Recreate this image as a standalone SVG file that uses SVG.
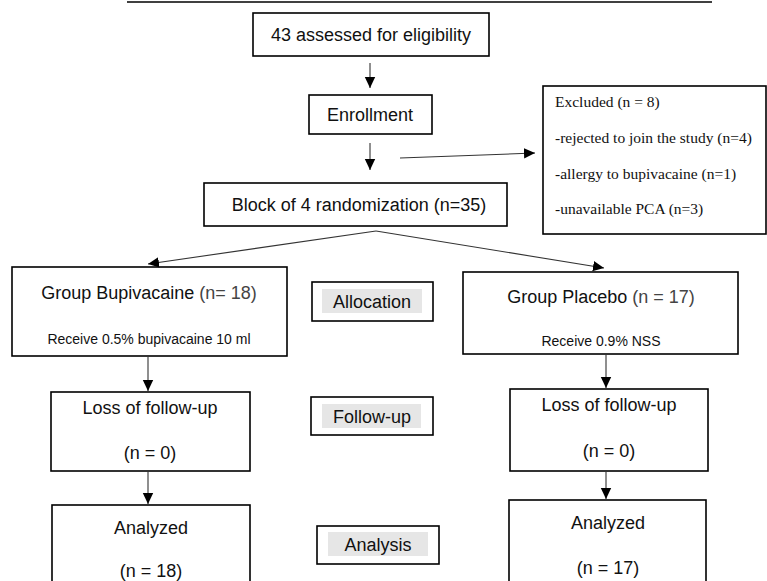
<svg xmlns="http://www.w3.org/2000/svg" width="767" height="581" viewBox="0 0 767 581">
<style>
.box{fill:#fff;stroke:#000;stroke-width:1.6}
.t{font-family:"Liberation Sans",Arial,sans-serif;fill:#111;text-anchor:middle;font-size:18px}
.r{font-size:14px}
.s{font-family:"Liberation Serif","Times New Roman",serif;fill:#111;font-size:15.5px}
.lbl{fill:#e6e6e6}
.c line{stroke:#333;stroke-width:1.1;fill:none}
</style>
<defs>
<marker id="ah" markerUnits="userSpaceOnUse" markerWidth="12" markerHeight="12" viewBox="0 0 12 12" refX="11" refY="6" orient="auto">
<path d="M0,0.8 L11,6 L0,11.2 Z" fill="#000"/>
</marker>
</defs>
<rect width="767" height="581" fill="#fff"/>
<line x1="127" y1="2" x2="712" y2="2" stroke="#000" stroke-width="1.5"/>

<g id="assessed"><rect class="box" x="253" y="13" width="236" height="43"/><text class="t" x="371" y="41">43 assessed for eligibility</text></g>
<g id="enrollment"><rect class="box" x="309" y="95" width="123" height="39"/><text class="t" x="370" y="121">Enrollment</text></g>
<g id="excluded"><rect class="box" x="543" y="86" width="223" height="148"/>
<text class="s" x="555" y="107">Excluded (n = 8)</text>
<text class="s" x="555" y="143">-rejected to join the study (n=4)</text>
<text class="s" x="555" y="179">-allergy to bupivacaine (n=1)</text>
<text class="s" x="555" y="214">-unavailable PCA (n=3)</text></g>
<g id="randomization"><rect class="box" x="204" y="183" width="303" height="43"/><text class="t" x="359" y="211">Block of 4 randomization (n=35)</text></g>

<g id="bupivacaine"><rect class="box" x="12" y="267" width="275" height="89"/>
<text class="t" x="149" y="299">Group Bupivacaine <tspan fill="#444">(n= 18)</tspan></text>
<text class="t r" x="149" y="344">Receive 0.5% bupivacaine 10 ml</text></g>
<g id="allocation"><rect class="box" x="312" y="282" width="121" height="39"/><rect class="lbl" x="322" y="289" width="100" height="24"/><text class="t" x="372" y="308">Allocation</text></g>
<g id="placebo"><rect class="box" x="463" y="272" width="275" height="82"/>
<text class="t" x="601" y="303">Group Placebo <tspan fill="#444">(n = 17)</tspan></text>
<text class="t r" x="601" y="346">Receive 0.9% NSS</text></g>

<g id="loss-left"><rect class="box" x="51" y="392" width="199" height="79"/>
<text class="t" x="150" y="414">Loss of follow-up</text>
<text class="t" x="150" y="459">(n = 0)</text></g>
<g id="followup"><rect class="box" x="311" y="397" width="122" height="38"/><rect class="lbl" x="322" y="404" width="99" height="24"/><text class="t" x="372" y="423">Follow-up</text></g>
<g id="loss-right"><rect class="box" x="510" y="389" width="198" height="82"/>
<text class="t" x="609" y="411">Loss of follow-up</text>
<text class="t" x="609" y="457">(n = 0)</text></g>

<g id="analyzed-left"><rect class="box" x="52" y="505" width="198" height="80"/>
<text class="t" x="151" y="534">Analyzed</text>
<text class="t" x="151" y="577">(n = 18)</text></g>
<g id="analysis"><rect class="box" x="317" y="526" width="122" height="38"/><rect class="lbl" x="328" y="532" width="100" height="24"/><text class="t" x="378" y="551">Analysis</text></g>
<g id="analyzed-right"><rect class="box" x="509" y="500" width="197" height="85"/>
<text class="t" x="608" y="529">Analyzed</text>
<text class="t" x="608" y="574">(n = 17)</text></g>

<g class="c" id="connectors">
<line x1="370" y1="63" x2="370" y2="88" marker-end="url(#ah)"/>
<line x1="370" y1="143" x2="370" y2="170" marker-end="url(#ah)"/>
<line x1="400" y1="158" x2="535" y2="153" marker-end="url(#ah)"/>
<line x1="376" y1="231" x2="148" y2="264" marker-end="url(#ah)"/>
<line x1="376" y1="231" x2="604" y2="268" marker-end="url(#ah)"/>
<line x1="148" y1="356" x2="148" y2="391" marker-end="url(#ah)"/>
<line x1="606" y1="354" x2="606" y2="388" marker-end="url(#ah)"/>
<line x1="148" y1="471" x2="148" y2="504" marker-end="url(#ah)"/>
<line x1="606" y1="471" x2="606" y2="499" marker-end="url(#ah)"/>
</g>
</svg>
